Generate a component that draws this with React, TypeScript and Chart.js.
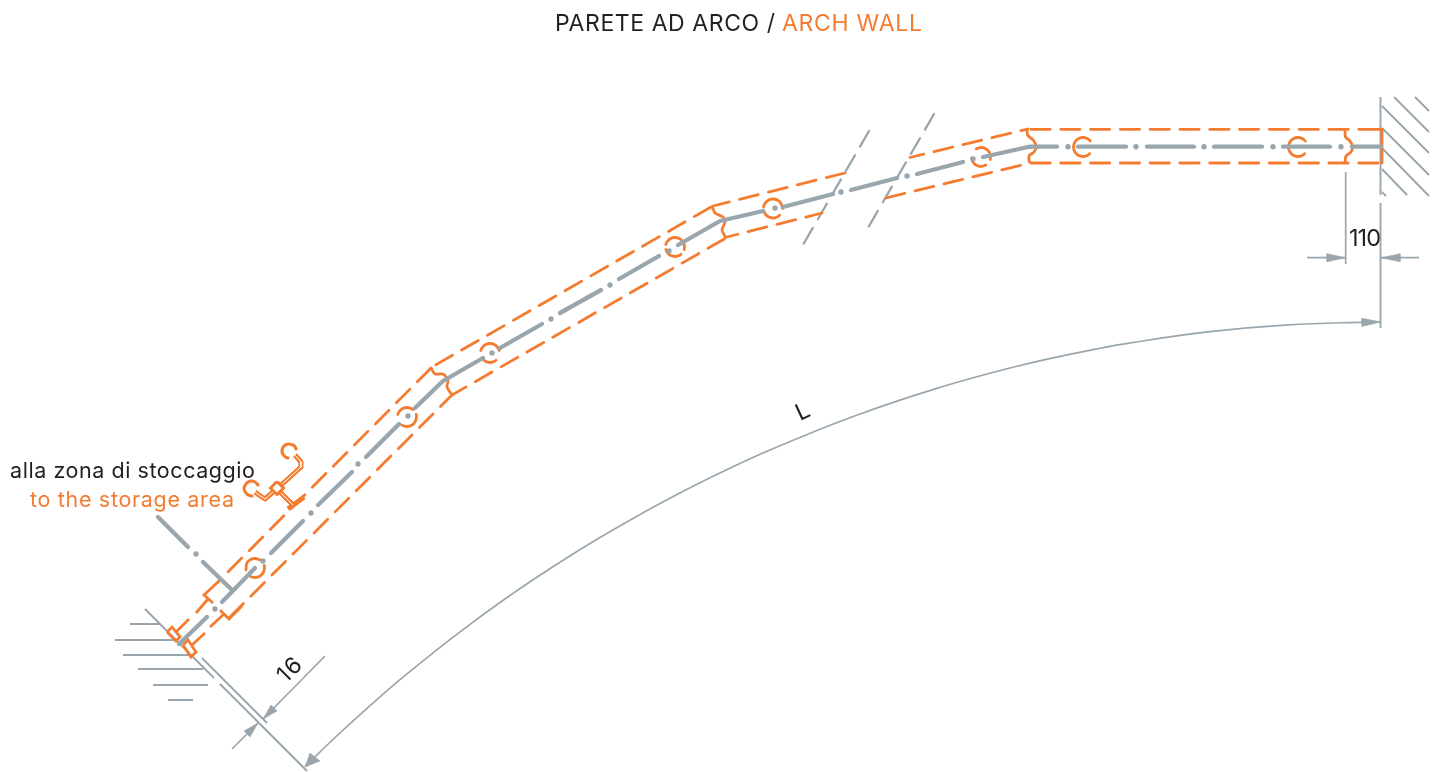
import React, { useEffect, useRef } from "react";
import { Chart, registerables } from "chart.js";

Chart.register(...registerables);

type P = [number, number];

const ORANGE = "#F47C30";
const GREY = "#9AA6AD";
const INK = "#231F20";

// Thick dash-dot centre line
const centreDashes: P[][] = [
  [[179, 644], [207, 617]],
  [[222, 602], [255, 568]],
  [[271, 553], [303, 521]],
  [[318, 505], [352, 472]],
  [[366, 457], [399, 424]],
  [[415, 408], [443, 381], [483, 358]],
  [[500, 348], [542, 324]],
  [[560, 313], [601, 290]],
  [[619, 279], [659, 256]],
  [[678, 245], [720, 221], [763, 211]],
  [[783, 207], [833, 194]],
  [[851, 190], [897, 178]],
  [[917, 174], [963, 162]],
  [[983, 157], [1028, 147], [1033, 146.7], [1057, 146.7]],
  [[1078, 146.7], [1126, 146.7]],
  [[1147, 146.7], [1194, 146.7]],
  [[1214, 146.7], [1262, 146.7]],
  [[1283, 146.7], [1330, 146.7]],
  [[1352, 146.7], [1381, 146.7]],
  [[158, 517], [188, 547]],
  [[203, 562], [231, 589]],
];
const centreDots: P[] = [
  [215, 609], [263, 561], [311, 513], [358, 464], [408, 416], [492, 353], [551, 319], [610, 285],
  [669, 251], [775, 208], [841, 192], [907, 176], [973, 159], [1068, 146.7], [1136, 146.7],
  [1204, 146.7], [1273, 146.7], [1341, 146.7], [196, 554],
];

// Dashed outline of the wall, upper and lower edges
const dashedEdges: { pts: P[]; offset: number }[] = [
  { pts: [[1378, 129.3], [1028, 129.3]], offset: 0 },
  { pts: [[1028, 129], [910, 157.5]], offset: 12 },
  { pts: [[845, 173], [713, 206]], offset: 0 },
  { pts: [[711, 207], [432, 367]], offset: 0 },
  { pts: [[431, 368], [218, 582]], offset: 0 },
  { pts: [[1378, 163], [1029, 163]], offset: 0 },
  { pts: [[886, 198], [1030, 163]], offset: 0 },
  { pts: [[725, 237.5], [822, 213]], offset: 6 },
  { pts: [[452, 395], [726, 238]], offset: 3 },
  { pts: [[452, 395], [229, 618]], offset: 3 },
];

// Solid orange details
const orangeSolid: P[][] = [
  [[1382, 128], [1382, 164.3]],
  [[1377, 129.3], [1382, 129.3]],
  [[218, 582], [204, 595], [213, 603]],
  [[208, 599], [196, 613]],
  [[189, 619], [176, 632]],
  [[205, 633], [192, 645]],
  [[210, 627], [224, 614]],
  [[220, 610], [229, 619], [242, 606]],
  [[167, 632], [172, 627], [180, 637], [176, 641], [167, 632]],
  [[183, 645], [188, 640], [196, 652], [191, 657], [183, 645]],
];
const jointCurves: P[][] = [
  [[1345, 129], [1345.5, 137], [1350, 141], [1352.5, 147], [1351, 152], [1346, 156], [1345, 163]],
  [[1027, 129], [1027.5, 135], [1034, 141], [1036, 147], [1034, 152], [1029, 156], [1029.5, 163]],
  [[712, 206], [715, 213], [723, 217], [725, 222], [722, 230], [726, 238]],
  [[431, 368], [435, 374], [443, 374], [448, 380], [447, 387], [452, 395]],
];
const ringArcs: P[][] = [
  [[246, 570], [246.8, 563.2], [250.2, 559.8], [255, 558.5], [259.8, 559.8]],
  [[264.2, 565.5], [264.5, 568], [263.2, 572.75], [259.75, 576.2], [255, 577.5], [250.5, 576.5]],
  [[397.8, 414.5], [398.8, 412.25], [402.25, 408.8], [407, 407.5], [411.75, 408.8], [413, 409.5]],
  [[416.2, 414.5], [416.5, 417], [415.2, 421.75], [411.75, 425.2], [407, 426.5], [401.5, 425]],
  [[480.8, 350.5], [481.8, 348.25], [485.25, 344.8], [490, 343.5], [494.75, 344.8], [498.2, 348.25], [499.2, 350.5]],
  [[481.8, 357.75], [485.25, 361.2], [490, 362.5], [494.75, 361.2], [496, 360.3]],
  [[665.8, 244.5], [666.8, 242.25], [670.25, 238.8], [675, 237.5], [679.75, 238.8], [683.2, 242.25], [684.5, 247], [684.2, 249.5]],
  [[665.8, 249.5], [666.8, 251.75], [670.25, 255.2], [675, 256.5], [679.75, 255.2], [681, 254.3]],
  [[763.5, 207], [764.8, 203.75], [768.25, 200.3], [773, 199], [777.75, 200.3], [781.2, 203.75], [782.5, 208.5]],
  [[763.8, 211], [764.8, 213.25], [768.25, 216.7], [773, 218], [777.75, 216.7], [779.7, 215.2]],
  [[976.25, 148.8], [981, 147.5], [985.75, 148.8], [989.2, 152.25], [990.5, 157], [990.2, 159.5]],
  [[971.5, 158], [972.8, 161.75], [976.25, 165.2], [981, 166.5], [985.75, 165.2]],
  [[1090.3, 141], [1087.75, 138.8], [1083, 137.5], [1078.25, 138.8], [1074.8, 142.25], [1073.5, 147], [1074.8, 151.75], [1078.25, 155.2], [1083, 156.5], [1087.75, 155.2], [1089.7, 153.7]],
  [[1305.3, 141], [1302.75, 138.8], [1298, 137.5], [1293.25, 138.8], [1289.8, 142.25], [1288.5, 147], [1289.8, 151.75], [1293.25, 155.2], [1298, 156.5], [1302.75, 155.2], [1304.7, 153.7]],
];
const fittingRings: P[][] = [
  [[296, 449], [294.5, 446], [292.5, 444.9], [289, 444], [285.5, 444.9], [283, 447.5], [282, 451], [283, 454.5], [285.5, 457], [288, 458]],
  [[258, 485], [255, 482], [251.5, 481], [248, 482], [245.5, 484.7], [244, 488.5], [245.5, 492.3], [248, 494.9], [252, 496]],
];

// Storage-area fitting
const fittingPipes: P[][] = [
  [[295, 455], [301, 462], [301, 467], [278, 488]],
  [[273, 492], [265, 499], [259, 495], [255, 492]],
  [[280, 492], [293, 505]],
];
const fittingBox: P[] = [[277, 481.5], [283.5, 488], [277, 494.5], [270.5, 488], [277, 481.5]];
const fittingFlange: P[] = [[288, 509], [304, 497]];

// Break lines
const breakLines: P[][] = [
  [[869, 131], [800, 250]],
  [[934, 114], [865, 233]],
];

// Thin grey construction lines
const wallStrokes: P[][] = [
  [[1380.5, 97], [1380.5, 195]],
  [[1380.5, 203], [1380.5, 328]],
  [[145, 609], [214, 678]],
  [[202, 658], [267, 723]],
  [[220, 684], [307, 771]],
];
const hatchRight: P[][] = [
  [[1382, 106], [1429, 153]],
  [[1394, 97], [1429, 132]],
  [[1415, 97], [1429, 111]],
  [[1382, 128], [1429, 175]],
  [[1382, 148], [1429, 196]],
  [[1382, 169], [1407, 195]],
  [[1382, 192], [1386, 196]],
];
const hatchLeft: P[][] = [
  [[130, 624], [160, 624]],
  [[115, 640], [177, 640]],
  [[123, 655], [192, 655]],
  [[138, 669], [203, 669]],
  [[153, 685], [208, 685]],
  [[168, 700], [193, 700]],
];
const dimensionLines: P[][] = [
  [[1345.7, 172], [1345.7, 264]],
  [[1307, 257.7], [1345.7, 257.7]],
  [[1381, 257.7], [1419, 257.7]],
  [[325, 656], [263, 719]],
  [[232, 749], [258, 723]],
];
const arcL: P[] = [
  [305, 766.7], [334, 738.5], [367, 708.3], [400, 679.7], [433, 652.8], [467, 626.6], [500, 602.5], [533, 579.8],
  [567, 557.7], [600, 537.5], [633, 518.4], [667, 499.8], [700, 482.8], [734, 466.3], [767, 451.3], [820, 429.2],
  [858, 414.7], [897, 401.1], [936, 388.6], [975, 377.3], [1014, 367], [1053, 357.9], [1092, 349.8], [1132, 342.6],
  [1210, 331.7], [1288, 324.9], [1366, 322.1], [1381, 322],
];
const arrowHeads: P[][] = [
  [[1345.7, 257.7], [1327, 253.7], [1327, 261.7], [1345.7, 257.7]],
  [[1381, 257.7], [1400, 253.7], [1400, 261.7], [1381, 257.7]],
  [[1381, 322], [1362, 318.2], [1362, 326.4], [1381, 322]],
  [[263, 719], [277, 711], [271, 705], [263, 719]],
  [[258, 723], [250, 737], [244, 731], [258, 723]],
  [[305, 767], [310, 753], [320, 761], [305, 767]],
];

// Texts
const titleIt = "PARETE AD ARCO /";
const titleEn = "ARCH WALL";
const noteIt = "alla zona di stoccaggio";
const noteEn = "to the storage area";
const dimL = "L";
const dim16 = "16";
const dim110 = "110";

const toData = (lines: P[][]) => {
  const out: { x: number | null; y: number | null }[] = [];
  lines.forEach((l, i) => {
    if (i) out.push({ x: null, y: null });
    l.forEach(([x, y]) => out.push({ x, y }));
  });
  return out;
};

const stroke = (lines: P[][], color: string, width: number, extra: Record<string, unknown> = {}) => ({
  data: toData(lines),
  showLine: true,
  pointRadius: 0,
  borderColor: color,
  backgroundColor: color,
  borderWidth: width,
  borderCapStyle: "butt",
  borderJoinStyle: "miter",
  tension: 0,
  spanGaps: false,
  fill: false,
  ...extra,
});

const textPlugin = {
  id: "drawingText",
  afterDatasetsDraw(chart: Chart) {
    const { ctx, scales } = chart;
    const put = (text: string, x: number, y: number, size: number, color: string, fitWidth: number, rot = 0) => {
      ctx.save();
      ctx.translate(scales.x.getPixelForValue(x), scales.y.getPixelForValue(y));
      ctx.rotate((rot * Math.PI) / 180);
      ctx.font = `${size}px Inter, sans-serif`;
      ctx.textAlign = "left";
      ctx.textBaseline = "alphabetic";
      ctx.fillStyle = color;
      const natural = ctx.measureText(text).width;
      if (fitWidth > 0 && text.length > 1) {
        (ctx as any).letterSpacing = `${(fitWidth - natural) / (text.length - 1)}px`;
      }
      ctx.fillText(text, 0, 0);
      ctx.restore();
    };
    put(titleIt, 555, 31, 23, INK, 220);
    put(titleEn, 782, 31, 23, ORANGE, 140);
    put(noteIt, 10, 478, 21.5, INK, 245);
    put(noteEn, 30, 507, 21.5, ORANGE, 204);
    put(dimL, 800, 421, 23, INK, 0, -25);
    put(dim16, 286, 684, 23, INK, 25, -45);
    put(dim110, 1349, 246, 23.5, INK, 32);
  },
};

export default function App() {
  const ref = useRef<HTMLCanvasElement>(null);
  useEffect(() => {
    if (!ref.current) return;
    const datasets: any[] = [
      { data: centreDots.map(([x, y]) => ({ x, y })), showLine: false, pointRadius: 2.7, pointBorderWidth: 0, pointBackgroundColor: GREY, backgroundColor: GREY },
      stroke(centreDashes, GREY, 4.3, { borderCapStyle: "round", borderJoinStyle: "round" }),
      stroke([fittingBox], ORANGE, 3, { fill: "shape", backgroundColor: "#FFFFFF" }),
      stroke(ringArcs, ORANGE, 2.8, { tension: 0.4, borderCapStyle: "round" }),
      stroke(fittingRings, ORANGE, 3.1, { tension: 0.4, borderCapStyle: "round" }),
      stroke(jointCurves, ORANGE, 2.8, { tension: 0.25 }),
      stroke(fittingPipes, "#FFFFFF", 1, { borderJoinStyle: "round" }),
      stroke(fittingPipes, ORANGE, 5, { borderJoinStyle: "round" }),
      stroke([fittingFlange], ORANGE, 5),
      stroke(orangeSolid, ORANGE, 2.8),
      ...dashedEdges.map((e) =>
        stroke([e.pts], ORANGE, 2.8, { borderDash: [19.3, 10.5], borderDashOffset: e.offset, borderCapStyle: "round" }),
      ),
      ...arrowHeads.map((a) => stroke([a], GREY, 0.6, { fill: "shape" })),
      stroke(breakLines, GREY, 2.3, { borderDash: [18, 10], borderCapStyle: "round" }),
      stroke(wallStrokes, GREY, 1.9),
      stroke(hatchRight, GREY, 1.9),
      stroke(hatchLeft, GREY, 2.1),
      stroke(dimensionLines, GREY, 1.7),
      stroke([arcL], GREY, 1.7, { tension: 0.4 }),
    ];
    const chart = new Chart(ref.current, {
      type: "scatter",
      data: { datasets },
      options: {
        animation: false,
        responsive: false,
        devicePixelRatio: 1,
        layout: { padding: 0, autoPadding: false },
        plugins: { legend: { display: false }, tooltip: { enabled: false }, title: { display: false } },
        scales: {
          x: { type: "linear", display: false, min: 0, max: 1443 },
          y: { type: "linear", display: false, min: 0, max: 772, reverse: true },
        },
      },
      plugins: [textPlugin],
    } as any);
    return () => chart.destroy();
  }, []);
  return (
    <div style={{ position: "absolute", left: 0, top: 0, width: 1443, height: 772, background: "#fff" }}>
      <canvas ref={ref} width={1443} height={772} style={{ display: "block" }} />
    </div>
  );
}
